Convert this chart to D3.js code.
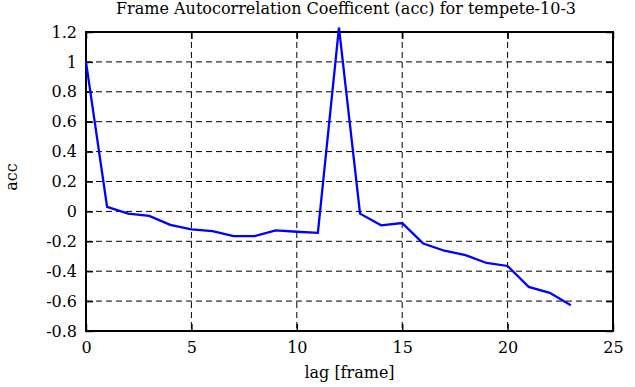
<!DOCTYPE html>
<html>
<head>
<meta charset="utf-8">
<script src="https://cdn.jsdelivr.net/npm/d3@7"></script>
<style>
  body { margin: 0; background: #fff; }
</style>
</head>
<body>
<svg id="chart" width="635" height="387"></svg>
<script>
// --- datos ---
const lags = d3.range(0, 24);
const acc = [1.0, 0.03, -0.015, -0.03, -0.09, -0.12, -0.132, -0.165, -0.165, -0.127,
             -0.136, -0.143, 1.23, -0.015, -0.093, -0.078, -0.215, -0.263, -0.292, -0.345,
             -0.365, -0.505, -0.545, -0.628];
const xTicks = [0, 5, 10, 15, 20, 25];
const yTicks = [-0.8, -0.6, -0.4, -0.2, 0, 0.2, 0.4, 0.6, 0.8, 1, 1.2];

const FONT = "'DejaVu Serif', serif";
const FS = 16;
const margin = {top: 32, right: 22, bottom: 56, left: 86};
const width = 635 - margin.left - margin.right,
      height = 387 - margin.top - margin.bottom;

const svg = d3.select("#chart");
const g = svg.append("g")
    .attr("transform", `translate(${margin.left}, ${margin.top})`);

const x = d3.scaleLinear().domain([0, 25]).range([0, width]);
const y = d3.scaleLinear().domain([-0.8, 1.2]).range([height, 0]);

// rejilla discontinua
g.append("g").selectAll("line")
    .data(xTicks.slice(1, -1))
    .join("line")
    .attr("x1", d => x(d)).attr("x2", d => x(d))
    .attr("y1", 0).attr("y2", height)
    .attr("stroke", "#000").attr("stroke-width", 1)
    .attr("stroke-dasharray", "6,4");

g.append("g").selectAll("line")
    .data(yTicks.slice(1, -1))
    .join("line")
    .attr("x1", 0).attr("x2", width)
    .attr("y1", d => y(d)).attr("y2", d => y(d))
    .attr("stroke", "#000").attr("stroke-width", 1)
    .attr("stroke-dasharray", "6,4");

// ejes con marcas hacia dentro
const fmtY = d => String(+d.toFixed(1));
const axisStyle = sel => {
    sel.attr("font-family", FONT).attr("font-size", FS);
    sel.select(".domain").remove();
    sel.selectAll(".tick line").attr("stroke", "#000").attr("stroke-width", 1.5);
    sel.selectAll(".tick text").attr("fill", "#000");
};

g.append("g")
    .attr("transform", `translate(0, ${height})`)
    .call(d3.axisBottom(x).tickValues(xTicks).tickSize(-7).tickPadding(11).tickFormat(d3.format("d")))
    .call(axisStyle);

g.append("g")
    .call(d3.axisLeft(y).tickValues(yTicks).tickSize(-7).tickPadding(9).tickFormat(fmtY))
    .call(axisStyle);

g.append("g")
    .call(d3.axisTop(x).tickValues(xTicks).tickSize(-7).tickFormat(""))
    .call(axisStyle);

g.append("g")
    .attr("transform", `translate(${width}, 0)`)
    .call(d3.axisRight(y).tickValues(yTicks).tickSize(-7).tickFormat(""))
    .call(axisStyle);

// marco
g.append("rect")
    .attr("width", width).attr("height", height)
    .attr("fill", "none").attr("stroke", "#000").attr("stroke-width", 2);

// serie
const line = d3.line()
    .x((d, i) => x(lags[i]))
    .y(d => y(d));

g.append("path")
    .datum(acc)
    .attr("d", line)
    .attr("fill", "none")
    .attr("stroke", "#0000ff")
    .attr("stroke-width", 2.3);

// textos
const label = (tx, ty, txt) => svg.append("text")
    .attr("x", tx).attr("y", ty)
    .attr("text-anchor", "middle")
    .attr("font-family", FONT)
    .attr("font-size", FS)
    .attr("fill", "#000")
    .text(txt);

label(346, 14, "Frame Autocorrelation Coefficent (acc) for tempete-10-3");
label(margin.left + width / 2, 378, "lag [frame]");
label(0, 0, "acc")
    .attr("transform", `translate(17, 177) rotate(-90)`);
</script>
</body>
</html>
